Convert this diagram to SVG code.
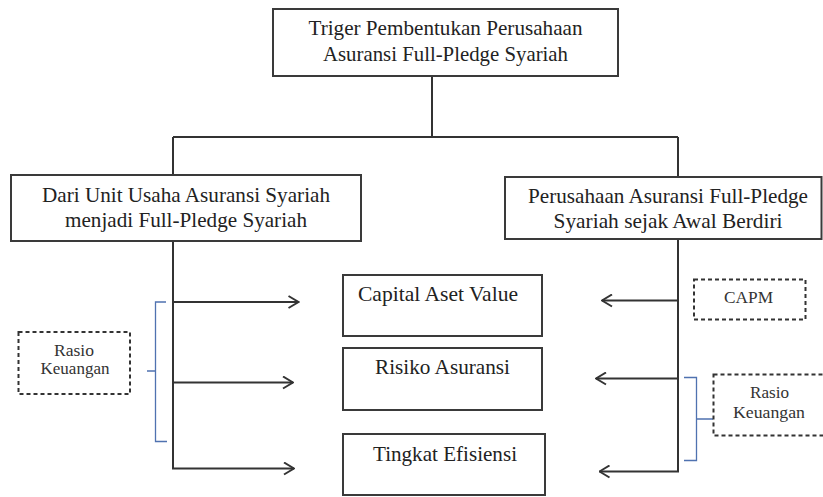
<svg xmlns="http://www.w3.org/2000/svg" width="823" height="497" viewBox="0 0 823 497">
<style>
.box{fill:#fff;stroke:#3a3a3a;stroke-width:2}
.dash{fill:#fff;stroke:#333;stroke-width:2;stroke-dasharray:4 3}
.t{font-size:21px;fill:#222;text-anchor:middle}
.s{font-size:17px;fill:#333;text-anchor:middle}
.ln{fill:none;stroke:#333;stroke-width:2}
.ar{fill:none;stroke:#333;stroke-width:2;marker-end:url(#arr)}
.br{fill:none;stroke:#4f72b0;stroke-width:1.3}
</style>
<defs>
<marker id="arr" viewBox="0 0 12 14" refX="11" refY="7" markerWidth="12" markerHeight="14" orient="auto" markerUnits="userSpaceOnUse">
<path d="M1,1 L11,7 L1,13" fill="none" stroke="#333" stroke-width="2"/>
</marker>
</defs>
<rect width="823" height="497" fill="#fff"/>
<g id="connectors">
<path class="ln" d="M432,76 V137 M173,137 H678 M173,137 V175 M678,137 V177"/>
<path class="ln" d="M173,241 V468.5"/>
<path class="ln" d="M678,239 V472"/>
<line class="ar" x1="173" y1="302" x2="298.5" y2="302"/>
<line class="ar" x1="173" y1="382.5" x2="293" y2="382.5"/>
<line class="ar" x1="172" y1="468.5" x2="294" y2="468.5"/>
<line class="ar" x1="678" y1="300.5" x2="602" y2="300.5"/>
<line class="ar" x1="678" y1="378.5" x2="596" y2="378.5"/>
<line class="ar" x1="679" y1="471.5" x2="599.5" y2="471.5"/>
<path class="br" d="M166,302 H155.5 V441.5 H167 M155.5,371 H147"/>
<path class="br" d="M684,377.5 H696.5 V460.5 H684 M696.5,419 H713"/>
</g>
<g font-family="Liberation Serif, Times New Roman, Times, serif">
<g id="node-trigger">
<rect class="box" x="273" y="9" width="345" height="67"/>
<text class="t" x="445.5" y="35" textLength="274" lengthAdjust="spacingAndGlyphs">Triger Pembentukan Perusahaan</text>
<text class="t" x="445.5" y="61" textLength="245" lengthAdjust="spacingAndGlyphs">Asuransi Full-Pledge Syariah</text>
</g>
<g id="node-uus">
<rect class="box" x="11" y="175" width="350" height="66"/>
<text class="t" x="186" y="202" textLength="288" lengthAdjust="spacingAndGlyphs">Dari Unit Usaha Asuransi Syariah</text>
<text class="t" x="186" y="227" textLength="242" lengthAdjust="spacingAndGlyphs">menjadi Full-Pledge Syariah</text>
</g>
<g id="node-fullpledge">
<rect class="box" x="505" y="177" width="316.5" height="62"/>
<text class="t" x="668" y="202.5" textLength="280" lengthAdjust="spacingAndGlyphs">Perusahaan Asuransi Full-Pledge</text>
<text class="t" x="668" y="228" textLength="229" lengthAdjust="spacingAndGlyphs">Syariah sejak Awal Berdiri</text>
</g>
<g id="node-capital">
<rect class="box" x="343" y="275" width="199" height="61"/>
<text class="t" x="438" y="300.5" textLength="160" lengthAdjust="spacingAndGlyphs">Capital Aset Value</text>
</g>
<g id="node-risiko">
<rect class="box" x="343" y="348" width="199" height="62"/>
<text class="t" x="442.5" y="374" textLength="135" lengthAdjust="spacingAndGlyphs">Risiko Asuransi</text>
</g>
<g id="node-efisiensi">
<rect class="box" x="343" y="434" width="202" height="61"/>
<text class="t" x="445" y="460.5" textLength="144" lengthAdjust="spacingAndGlyphs">Tingkat Efisiensi</text>
</g>
<g id="node-capm">
<rect class="dash" x="694" y="279.5" width="111.5" height="40"/>
<text class="s" x="748.5" y="302.5" textLength="49" lengthAdjust="spacingAndGlyphs">CAPM</text>
</g>
<g id="node-rasio-left">
<rect class="dash" x="18.5" y="332" width="111.5" height="62"/>
<text class="s" x="74" y="355.5" textLength="40" lengthAdjust="spacingAndGlyphs">Rasio</text>
<text class="s" x="75" y="373.5" textLength="69" lengthAdjust="spacingAndGlyphs">Keuangan</text>
</g>
<g id="node-rasio-right">
<rect class="dash" x="713.5" y="374.5" width="112" height="61"/>
<text class="s" x="769.5" y="397.5" textLength="39" lengthAdjust="spacingAndGlyphs">Rasio</text>
<text class="s" x="769" y="418" textLength="72" lengthAdjust="spacingAndGlyphs">Keuangan</text>
</g>
</g>
</svg>
